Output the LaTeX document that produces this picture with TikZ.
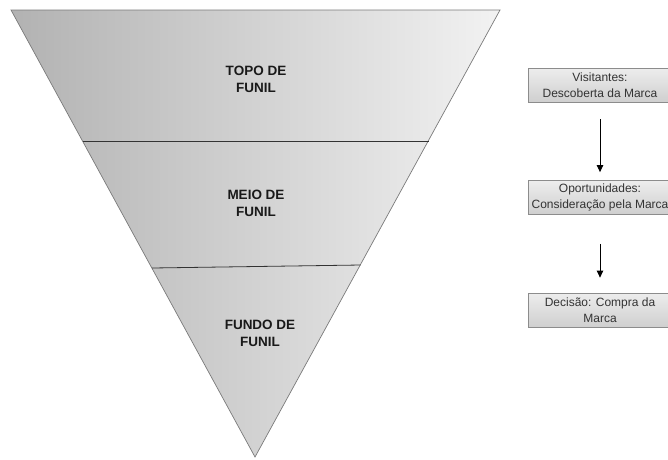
\documentclass[tikz,border=0pt]{standalone}
\usepackage{fontspec}
\setmainfont{Liberation Sans}
\usetikzlibrary{arrows.meta}
\definecolor{funnelL}{HTML}{B2B2B2}
\definecolor{funnelR}{HTML}{F2F2F2}
\definecolor{funnelEdge}{HTML}{7A7A7A}
\definecolor{textgray}{HTML}{333333}
\definecolor{boxTop}{HTML}{EDEDED}
\definecolor{boxBot}{HTML}{CFCFCF}
\definecolor{boxEdge}{HTML}{8C8C8C}
\begin{document}
\begin{tikzpicture}[x=1pt,y=-1pt,
  funnelline/.style={draw=black!80, line width=0.8pt},
  stagelabel/.style={font=\bfseries\fontsize{13.5}{17}\selectfont, align=center, text=black!90, inner sep=0pt},
  stepbox/.style={draw=boxEdge, line width=0.8pt, top color=boxTop, bottom color=boxBot,
    minimum width=144pt, minimum height=34pt, inner sep=0pt, align=center,
    font=\fontsize{12}{16}\selectfont, text=textgray},
  flow/.style={-{Triangle[length=7pt,width=6.5pt]}, line width=0.8pt, draw=black}]
\useasboundingbox (0,0) rectangle (668,459);
\clip (0,0) rectangle (668,459);
% funnel
\shade[left color=funnelL, right color=funnelR, draw=funnelEdge, line width=0.7pt]
  (11,10) -- (500,10) -- (255,457) -- cycle;
\draw[funnelline] (82.5,141) -- (428.5,141);
\draw[funnelline] (152,268) -- (360.5,265);
\node[stagelabel] (topo) at (256,79) {TOPO DE\\FUNIL};
\node[stagelabel] (meio) at (256,203) {MEIO DE\\FUNIL};
\node[stagelabel] (fundo) at (260,333) {FUNDO DE\\FUNIL};
% steps
\node[stepbox] (b1) at (600,85) {Visitantes:\\Descoberta da Marca};
\node[stepbox] (b2) at (600,197.5) {Oportunidades:\\Consideração pela Marca};
\node[stepbox] (b3) at (600,310) {Decisão: Compra da\\Marca};
\draw[flow, shorten <=17pt, shorten >=8pt] (b1) -- (b2);
\draw[flow, shorten <=29pt, shorten >=15pt] (b2) -- (b3);
\end{tikzpicture}
\end{document}
